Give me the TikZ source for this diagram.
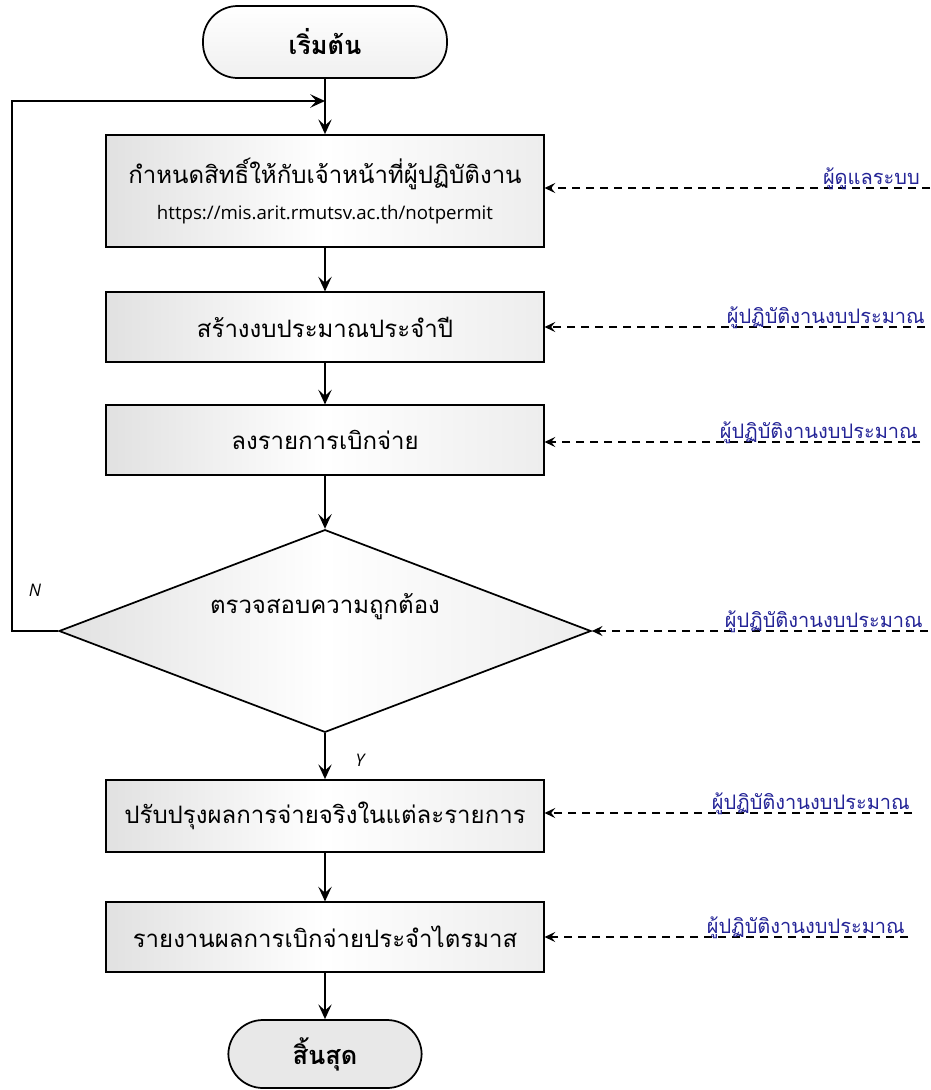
\documentclass[tikz,border=0pt]{standalone}
\usepackage{fontspec}
\setmainfont{Loma}[Script=Thai]
\setsansfont{Open Sans}
\newfontfamily\thaifont[Script=Thai]{Loma}
\usetikzlibrary{shapes.geometric,arrows.meta,positioning,calc}
\definecolor{rolecol}{RGB}{35,35,150}
\definecolor{boxedge}{RGB}{225,225,225}

\begin{document}
\begin{tikzpicture}[
    x=0.75pt, y=-0.75pt,
    >={Stealth[length=11pt, width=10pt, inset=4.5pt]},
    proc/.style={rectangle, draw, line width=1.3pt, minimum width=328pt, align=center, font=\thaifont\fontsize{18}{21}\selectfont, left color=boxedge, right color=boxedge!60, middle color=white},
    term/.style={rectangle, draw, line width=1.3pt, rounded corners=26pt, font=\thaifont\bfseries\fontsize{19}{22}\selectfont},
    decide/.style={diamond, draw, line width=1.3pt, inner sep=0pt, minimum width=399pt, minimum height=152pt, left color=boxedge, right color=boxedge!60, middle color=white},
    flow/.style={->, line width=1.8pt},
    feed/.style={->, line width=1.5pt, dash pattern=on 6pt off 4.5pt, >={Stealth[length=8pt, width=7.5pt, inset=3pt]}},
    role/.style={anchor=base east, inner sep=0pt, text=rolecol, font=\thaifont\fontsize{15}{17}\selectfont},
    yn/.style={font=\sffamily\itshape\fontsize{13}{15}\selectfont},
]
\useasboundingbox (0,0) rectangle (931,1090);

% main column
\node[term, minimum width=183pt, minimum height=54pt, top color=white, bottom color=gray!12] (start) at (325,42) {เริ่มต้น};
\node[proc, minimum height=84pt] (perm) at (325,191) {กำหนดสิทธิ์ให้กับเจ้าหน้าที่ผู้ปฏิบัติงาน\\[6pt]{\sffamily\fontsize{14}{16}\selectfont https://mis.arit.rmutsv.ac.th/notpermit}};
\node[proc, minimum height=52pt] (budget) at (325,327) {สร้างงบประมาณประจำปี};
\node[proc, minimum height=52pt] (entry) at (325,440) {ลงรายการเบิกจ่าย};
\node[decide, label={[font=\thaifont\fontsize{18}{21}\selectfont, yshift=18pt]center:ตรวจสอบความถูกต้อง}] (check) at (325,631) {};
\node[proc, minimum height=54pt] (adjust) at (325,816) {ปรับปรุงผลการจ่ายจริงในแต่ละรายการ};
\node[proc, minimum height=52pt] (report) at (325,937) {รายงานผลการเบิกจ่ายประจำไตรมาส};
\node[term, minimum width=145pt, minimum height=51pt, fill=gray!18] (stop) at (325,1054) {สิ้นสุด};

\coordinate (join) at (325,101);

\draw[flow] (start) -- (perm);
\draw[flow] (perm) -- (budget);
\draw[flow] (budget) -- (entry);
\draw[flow] (entry) -- (check);
\draw[flow] (check) -- (adjust);
\draw[flow] (adjust) -- (report);
\draw[flow] (report) -- (stop);
\draw[flow] (check.west) -- ++(-46,0) |- (join);

\node[yn] (no) at (35,590) {N};
\node[yn] (yes) at (360,760) {Y};

% roles on the right
\coordinate (r1) at (930,188);
\coordinate (r2) at (925,327);
\coordinate (r3) at (920,442);
\coordinate (r4) at (928,631);
\coordinate (r5) at (912,813);
\coordinate (r6) at (908,937);

\draw[feed] (r1) -- (perm.east |- r1);
\draw[feed] (r2) -- (budget.east |- r2);
\draw[feed] (r3) -- (entry.east |- r3);
\draw[feed] (r4) -- (check.east);
\draw[feed] (r5) -- (adjust.east |- r5);
\draw[feed] (r6) -- (report.east |- r6);

\node[role] (role1) at ($(r1)+(-10,-4)$) {ผู้ดูแลระบบ};
\node[role] (role2) at ($(r2)+(0,-4)$) {ผู้ปฏิบัติงานงบประมาณ};
\node[role] (role3) at ($(r3)+(-2,-4)$) {ผู้ปฏิบัติงานงบประมาณ};
\node[role] (role4) at ($(r4)+(-5,-4)$) {ผู้ปฏิบัติงานงบประมาณ};
\node[role] (role5) at ($(r5)+(-2,-4)$) {ผู้ปฏิบัติงานงบประมาณ};
\node[role] (role6) at ($(r6)+(-3,-4)$) {ผู้ปฏิบัติงานงบประมาณ};
\end{tikzpicture}
\end{document}
